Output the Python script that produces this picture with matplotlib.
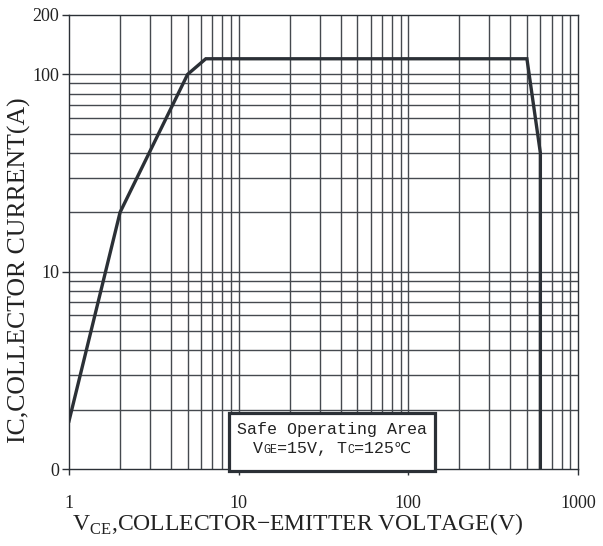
import matplotlib
matplotlib.use("Agg")
import matplotlib.pyplot as plt
from matplotlib.ticker import FixedLocator, NullFormatter, FixedFormatter
from matplotlib.patches import Rectangle
from matplotlib.offsetbox import TextArea, HPacker, VPacker, AnnotationBbox

# Data
vce = [1, 2, 5, 6.4, 500, 600, 600]
ic = [1.75, 20, 100, 120, 120, 40, 1]

x_ticks = [1, 10, 100, 1000]
x_tick_labels = ["1", "10", "100", "1000"]
y_ticks = [1, 10, 100, 200]
y_tick_labels = ["0", "10", "100", "200"]

x_grid = [m * d for d in (1, 10, 100) for m in range(2, 10)] + [10, 100]
y_grid = [m * d for d in (1, 10) for m in range(2, 10)] + [10, 100]

dark = "#2b3036"
txt = "#222222"
serif = ["Liberation Serif", "DejaVu Serif"]
mono = ["Liberation Mono", "DejaVu Sans Mono"]

plt.rcParams["mathtext.fontset"] = "custom"
plt.rcParams["mathtext.rm"] = "Liberation Serif"

fig = plt.figure(figsize=(6.03, 5.46), dpi=100)
ax = fig.add_axes([69 / 603, 1 - 469 / 546, (578 - 69) / 603, (469 - 15) / 546])
ax.set_xscale("log")
ax.set_yscale("log")
ax.set_xlim(1, 1000)
ax.set_ylim(1, 200)

# Grid lines
for xv in x_grid:
    ax.axvline(xv, color="#45494f", lw=1.0, zorder=1)
for yv in y_grid:
    ax.axhline(yv, color="#45494f", lw=1.0, zorder=1)

ax.plot(vce, ic, color=dark, lw=2.4, zorder=3, solid_joinstyle="miter")

ax.xaxis.set_major_locator(FixedLocator(x_ticks))
ax.xaxis.set_major_formatter(FixedFormatter(x_tick_labels))
ax.xaxis.set_minor_locator(FixedLocator([]))
ax.xaxis.set_minor_formatter(NullFormatter())
ax.yaxis.set_major_locator(FixedLocator(y_ticks))
ax.yaxis.set_major_formatter(FixedFormatter(y_tick_labels))
ax.yaxis.set_minor_locator(FixedLocator([]))
ax.yaxis.set_minor_formatter(NullFormatter())

ax.tick_params(axis="both", which="major", direction="out", width=1,
               color=dark, labelsize=13, labelcolor=txt)
ax.tick_params(axis="x", length=4, pad=15)
ax.tick_params(axis="y", length=5, pad=2)
for lab in ax.get_xticklabels() + ax.get_yticklabels():
    lab.set_family(serif)

for s in ax.spines.values():
    s.set_color(dark)
    s.set_linewidth(1.0)

fig.text(297.5 / 603, 1 - 530 / 546,
         r"V$_{\mathregular{CE}}$,COLLECTOR$\mathregular{-}$EMITTER VOLTAGE(V)",
         ha="center", va="baseline", fontsize=17, family=serif, color=txt)
fig.text(19 / 603, 1 - 270 / 546, "IC,COLLECTOR CURRENT(A)", rotation=90,
         ha="center", va="center", fontsize=18.5, family=serif, color=txt)

# Annotation box
ax.add_patch(Rectangle(((229 - 69) / 509, (469 - 471) / 454), (435 - 229) / 509, (471 - 413) / 454,
                       transform=ax.transAxes, facecolor="white", edgecolor=dark,
                       linewidth=2.3, clip_on=False, zorder=5))

big = dict(family=mono, size=12, color=txt)
small = dict(family=mono, size=8.5, color=txt)
line1 = TextArea("Safe Operating Area", textprops=big)
line2 = HPacker(children=[
    TextArea("V", textprops=big),
    TextArea("GE", textprops=small),
    TextArea("=15V, T", textprops=big),
    TextArea("C", textprops=small),
    TextArea("=125", textprops=big),
    TextArea("℃", textprops=dict(family=["DejaVu Sans"], size=11, color=txt)),
], align="baseline", pad=0, sep=0)
block = VPacker(children=[line1, line2], align="center", pad=0, sep=3)
ab = AnnotationBbox(block, ((332 - 69) / 509, (469 - 439) / 454), xycoords="axes fraction",
                    frameon=False, box_alignment=(0.5, 0.5), zorder=6, annotation_clip=False)
ax.add_artist(ab)

fig.savefig("out.png", dpi=100)
